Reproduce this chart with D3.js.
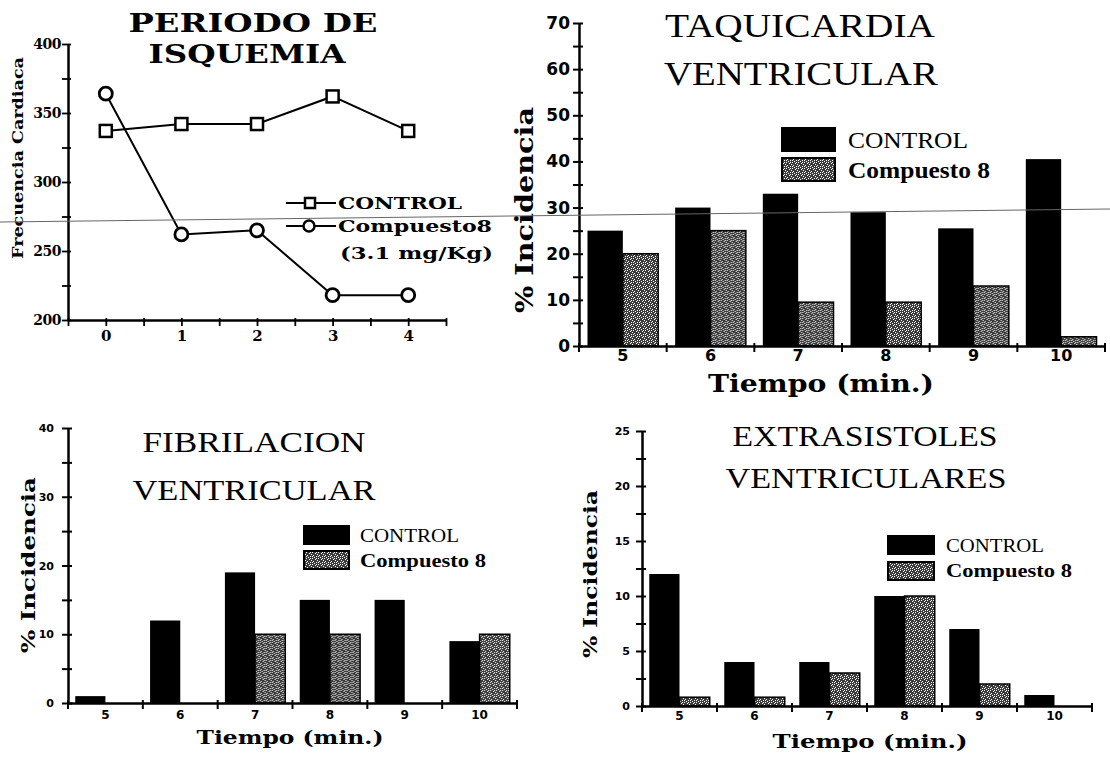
<!DOCTYPE html>
<html><head><meta charset="utf-8">
<script src="https://cdn.jsdelivr.net/npm/d3@7"></script>
<style>body{margin:0;background:#fff}svg{display:block}</style>
</head><body><svg id="c" width="1110" height="758"></svg>
<script>
// ---------- DATA ----------
const hrMinutes = [0, 1, 2, 3, 4];
const hrControl = [337, 342, 342, 362, 337];
const hrCompuesto = [364, 262, 265, 218, 218];
const hrTickLabels = [200, 250, 300, 350, 400];
const minutes = ["5", "6", "7", "8", "9", "10"];
const seriesNames = ["CONTROL", "Compuesto 8"];
const tvControl = [25, 30, 33, 29, 25.5, 40.5];
const tvCompuesto = [20, 25, 9.5, 9.5, 13, 2];
const tvTickLabels = [0, 10, 20, 30, 40, 50, 60, 70];
const fvControl = [1, 12, 19, 15, 15, 9];
const fvCompuesto = [0, 0, 10, 10, 0, 10];
const fvTickLabels = [0, 10, 20, 30, 40];
const evControl = [12, 4, 4, 10, 7, 1];
const evCompuesto = [0.8, 0.8, 3, 10, 2, 0];
const evTickLabels = [0, 5, 10, 15, 20, 25];

// ---------- SETUP ----------
const svg = d3.select("#c");
const HEAVY = "'DejaVu Serif', serif";
const TIMES = "'Liberation Serif', 'Times New Roman', serif";
const SANSB = "'DejaVu Sans', sans-serif";

const defs = svg.append("defs");
const pat = defs.append("pattern").attr("id", "stip")
  .attr("patternUnits", "userSpaceOnUse").attr("width", 6).attr("height", 6);
pat.append("rect").attr("width", 6).attr("height", 6).attr("fill", "#3c3c3c");
[[0,0],[3,1],[1,3],[4,4],[5,2],[2,5],[0,4],[4,0]].forEach(([a, b]) =>
  pat.append("rect").attr("x", a).attr("y", b).attr("width", 1).attr("height", 1).attr("fill", "#fff"));

function txt(g, x, y, s, o) {
  const t = g.append("text").attr("x", x).attr("y", y).text(s)
    .attr("font-family", o.family).attr("font-size", o.size)
    .attr("font-weight", o.weight || "normal")
    .attr("text-anchor", o.anchor || "start").attr("fill", "#000");
  if (o.len) t.attr("textLength", o.len).attr("lengthAdjust", "spacingAndGlyphs");
  return t;
}
function vtxt(g, x, cy, s, o) {
  const t = g.append("text").attr("transform", `translate(${x},${cy}) rotate(-90)`)
    .text(s).attr("font-family", o.family).attr("font-size", o.size)
    .attr("font-weight", o.weight || "normal").attr("text-anchor", "middle");
  if (o.len) t.attr("textLength", o.len).attr("lengthAdjust", "spacingAndGlyphs");
  return t;
}

// ---------- TOP-LEFT: line chart ----------
(function () {
  const g = svg.append("g");
  const x = d3.scaleLinear().domain([-0.5, 4.5]).range([68, 446]);
  const y = d3.scaleLinear().domain([200, 400]).range([320, 44]);

  const xa = g.append("g").attr("transform", "translate(0,320)")
    .call(d3.axisBottom(x).tickValues(d3.range(-0.5, 4.51, 0.5))
      .tickFormat(d => Number.isInteger(d) && d >= 0 ? d : "").tickSize(6).tickSizeOuter(0).tickPadding(4));
  xa.select(".domain").attr("stroke-width", 2.5);
  xa.selectAll(".tick line").attr("y1", -2).attr("stroke-width", 1.8);
  xa.selectAll("text").attr("font-family", HEAVY).attr("font-weight", "bold").attr("font-size", 15);

  const ya = g.append("g").attr("transform", "translate(68,0)")
    .call(d3.axisLeft(y).tickValues(d3.range(200, 401, 25))
      .tickFormat(d => hrTickLabels.includes(d) ? d : "").tickSize(6).tickSizeOuter(0).tickPadding(1));
  ya.select(".domain").attr("stroke-width", 2.5);
  ya.selectAll(".tick line").attr("x1", 3).attr("stroke-width", 1.8);
  ya.selectAll("text").attr("font-family", HEAVY).attr("font-weight", "bold").attr("font-size", 14).attr("letter-spacing", -0.5);

  const line = d3.line().x((d, i) => x(hrMinutes[i])).y(d => y(d));
  g.append("path").attr("d", line(hrControl)).attr("fill", "none").attr("stroke", "#000").attr("stroke-width", 2);
  g.append("path").attr("d", line(hrCompuesto)).attr("fill", "none").attr("stroke", "#000").attr("stroke-width", 2);
  g.selectAll(".sq").data(hrControl).join("rect")
    .attr("x", (d, i) => x(hrMinutes[i]) - 6).attr("y", d => y(d) - 6)
    .attr("width", 12).attr("height", 12).attr("fill", "#fff").attr("stroke", "#000").attr("stroke-width", 2.5);
  g.selectAll(".ci").data(hrCompuesto).join("circle")
    .attr("cx", (d, i) => x(hrMinutes[i])).attr("cy", d => y(d))
    .attr("r", 6.5).attr("fill", "#fff").attr("stroke", "#000").attr("stroke-width", 2.8);

  txt(g, 253, 32, "PERIODO DE", { family: HEAVY, weight: "bold", size: 26, anchor: "middle", len: 249 });
  txt(g, 247, 63, "ISQUEMIA", { family: HEAVY, weight: "bold", size: 26, anchor: "middle", len: 197 });
  vtxt(g, 23, 158, "Frecuencia Cardiaca", { family: HEAVY, weight: "bold", size: 15, len: 202 });

  // legend
  [[203, "sq", "CONTROL", 124], [226, "ci", "Compuesto8", 154]].forEach(([cy, m, s, len]) => {
    g.append("line").attr("x1", 286).attr("x2", 336).attr("y1", cy).attr("y2", cy).attr("stroke", "#000").attr("stroke-width", 2);
    if (m === "sq") g.append("rect").attr("x", 305).attr("y", cy - 5).attr("width", 10).attr("height", 10)
      .attr("fill", "#fff").attr("stroke", "#000").attr("stroke-width", 2.5);
    else g.append("circle").attr("cx", 309).attr("cy", cy).attr("r", 5.5).attr("fill", "#fff").attr("stroke", "#000").attr("stroke-width", 2.5);
    txt(g, 338, cy + 6, s, { family: HEAVY, weight: "bold", size: 17, len: len });
  });
  txt(g, 340, 259, "(3.1 mg/Kg)", { family: HEAVY, weight: "bold", size: 17, len: 153 });
})();

// ---------- BAR PANELS ----------
function barPanel(c) {
  const g = svg.append("g");
  const x = d3.scaleBand().domain(minutes).range(c.xr).paddingInner(0).paddingOuter(0);
  const inner = d3.scaleBand().domain(seriesNames).range([0, x.bandwidth()]).paddingInner(0).paddingOuter(0.24);
  const y = d3.scaleLinear().domain([0, c.ymax]).range(c.yr);

  const rows = minutes.map((m, i) => ({ m, v: [c.control[i], c.comp[i]] }));
  const grp = g.selectAll(".grp").data(rows).join("g").attr("transform", d => `translate(${x(d.m)},0)`);
  grp.selectAll("rect").data(d => d.v.map((v, j) => ({ s: seriesNames[j], v })).filter(e => e.v > 0)).join("rect")
    .attr("x", e => inner(e.s)).attr("width", inner.bandwidth())
    .attr("y", e => y(e.v)).attr("height", e => y(0) - y(e.v))
    .attr("fill", e => e.s === "CONTROL" ? "#000" : "url(#stip)")
    .attr("stroke", e => e.s === "CONTROL" ? "none" : "#000")
    .attr("stroke-width", 1.5);

  // y axis
  const ya = g.append("g").attr("transform", `translate(${c.xr[0]},0)`)
    .call(d3.axisLeft(y).tickValues(d3.range(0, c.ymax + 0.01, c.minor))
      .tickFormat(d => c.ticks.includes(d) ? d : "").tickSize(6).tickSizeOuter(0).tickPadding(c.ypad));
  ya.select(".domain").attr("stroke-width", 2.5);
  ya.selectAll(".tick line").attr("x1", 4).attr("stroke-width", 2);
  ya.selectAll("text").attr("font-family", SANSB).attr("font-weight", "bold").attr("font-size", c.tickSize);

  // x axis
  const xa = g.append("g").attr("transform", `translate(0,${c.yr[0]})`)
    .call(d3.axisBottom(x).tickSize(0).tickSizeOuter(0).tickPadding(c.xpad));
  xa.select(".domain").attr("stroke-width", 2.5);
  xa.selectAll("text").attr("font-family", SANSB).attr("font-weight", "bold").attr("font-size", c.xTickSize);
  const edges = minutes.map(m => x(m)).concat([c.xr[1]]);
  g.selectAll(".edge").data(edges).join("line")
    .attr("x1", d => d).attr("x2", d => d).attr("y1", c.yr[0] - 3).attr("y2", c.yr[0] + 6)
    .attr("stroke", "#000").attr("stroke-width", 2);

  // titles
  c.title.forEach(t => txt(g, t.x, t.y, t.s, { family: TIMES, size: c.titleSize, anchor: "middle", len: t.len }));
  // axis labels
  txt(g, c.xl.x, c.xl.y, "Tiempo (min.)", { family: HEAVY, weight: "bold", size: c.xl.size, anchor: "middle", len: c.xl.len });
  vtxt(g, c.yl.x, c.yl.y, "% Incidencia", { family: HEAVY, weight: "bold", size: c.yl.size, len: c.yl.len });
  // legend
  const L = c.legend;
  g.append("rect").attr("x", L.x).attr("y", L.y1).attr("width", L.w).attr("height", L.h).attr("fill", "#000");
  g.append("rect").attr("x", L.x + 1).attr("y", L.y2 + 1).attr("width", L.w - 2).attr("height", L.h - 2)
    .attr("fill", "url(#stip)").attr("stroke", "#000").attr("stroke-width", 2);
  txt(g, L.tx, L.b1, seriesNames[0], { family: TIMES, size: L.size, len: L.len1 });
  txt(g, L.tx, L.b2, seriesNames[1], { family: TIMES, weight: "bold", size: L.size, len: L.len2 });
}

barPanel({
  xr: [579, 1105], yr: [346, 23], ymax: 70, minor: 5, ticks: tvTickLabels,
  control: tvControl, comp: tvCompuesto, ypad: 3, xpad: 4, tickSize: 17, xTickSize: 16,
  titleSize: 34,
  title: [{ x: 800, y: 37, s: "TAQUICARDIA", len: 270 }, { x: 801, y: 85, s: "VENTRICULAR", len: 274 }],
  xl: { x: 821, y: 392, size: 25, len: 226 },
  yl: { x: 533, y: 210, size: 24, len: 206 },
  legend: { x: 781, w: 55, h: 25, y1: 127, y2: 157, tx: 848, b1: 148, b2: 178, size: 23, len1: 120, len2: 142 }
});

barPanel({
  xr: [68, 517], yr: [703, 428], ymax: 40, minor: 5, ticks: fvTickLabels,
  control: fvControl, comp: fvCompuesto, ypad: 8, xpad: 7, tickSize: 11, xTickSize: 12,
  titleSize: 30,
  title: [{ x: 254, y: 452, s: "FIBRILACION", len: 223 }, { x: 254, y: 500, s: "VENTRICULAR", len: 243 }],
  xl: { x: 290, y: 744, size: 19, len: 187 },
  yl: { x: 35, y: 565, size: 18, len: 176 },
  legend: { x: 303, w: 47, h: 20, y1: 525, y2: 550, tx: 360, b1: 542, b2: 567, size: 19, len1: 99, len2: 126 }
});

barPanel({
  xr: [642, 1092], yr: [706, 431], ymax: 25, minor: 2.5, ticks: evTickLabels,
  control: evControl, comp: evCompuesto, ypad: 6, xpad: 5, tickSize: 11, xTickSize: 12,
  titleSize: 30,
  title: [{ x: 865, y: 446, s: "EXTRASISTOLES", len: 265 }, { x: 866, y: 488, s: "VENTRICULARES", len: 281 }],
  xl: { x: 870, y: 748, size: 19, len: 195 },
  yl: { x: 597, y: 574, size: 18, len: 168 },
  legend: { x: 887, w: 48, h: 20, y1: 535, y2: 561, tx: 946, b1: 552, b2: 577, size: 19, len1: 98, len2: 126 }
});

// faint scan line crossing the page
svg.append("line").attr("x1", 0).attr("y1", 222).attr("x2", 1110).attr("y2", 209)
  .attr("stroke", "#666").attr("stroke-width", 1);
</script></body></html>
